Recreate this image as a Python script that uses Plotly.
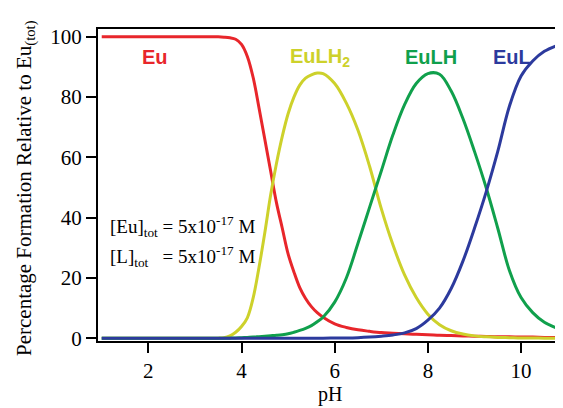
import plotly.graph_objects as go

pH = [1.0, 1.5, 2.0, 2.5, 3.0, 3.25, 3.5, 3.625, 3.75, 3.875, 4.0, 4.125, 4.25, 4.375,
      4.5, 4.625, 4.75, 4.875, 5.0, 5.125, 5.25, 5.375, 5.5, 5.625, 5.75, 6.0, 6.25,
      6.5, 6.75, 7.0, 7.25, 7.5, 7.75, 8.0, 8.25, 8.5, 8.75, 9.0, 9.25, 9.5, 9.75,
      10.0, 10.25, 10.5, 10.75, 11.0]

eu = [100, 100, 100, 100, 100, 100, 100, 99.9, 99.7, 99.2, 97.5, 93.5, 86.5, 76.5,
      66, 55.5, 45, 36.5, 28, 22, 16.8, 13.2, 10.5, 8.5, 7, 4.8, 3.6,
      2.8, 2.3, 1.9, 1.7, 1.5, 1.3, 1.2, 1.0, 0.9, 0.8, 0.7, 0.6, 0.5, 0.5,
      0.4, 0.4, 0.3, 0.3, 0.3]

eulh2 = [0, 0, 0, 0, 0, 0, 0.05, 0.2, 0.8, 2.0, 3.9, 6.8, 13.4, 23.5,
         35, 47.5, 58, 67, 74.5, 80, 84, 86.3, 87.4, 88, 87.8, 84.5, 78,
         69, 57, 43, 31, 21, 13.5, 8, 4.5, 2.5, 1.4, 0.8, 0.5, 0.3, 0.2,
         0.1, 0.1, 0.05, 0.05, 0.05]

eulh = [0, 0, 0, 0, 0, 0, 0, 0, 0.05, 0.1, 0.2, 0.3, 0.4, 0.55,
        0.7, 0.85, 1.0, 1.2, 1.5, 2.0, 2.6, 3.3, 4.2, 5.5, 7, 12, 20,
        31.5, 43.5, 55.5, 67.5, 77.5, 84.5, 87.8, 87.6, 82, 73, 62, 50, 36.5, 22.5,
        13.5, 8.5, 5.3, 3.5, 2.3]

eul = [0, 0, 0, 0, 0, 0, 0, 0, 0, 0, 0, 0, 0, 0,
       0, 0, 0, 0, 0, 0.01, 0.02, 0.02, 0.03, 0.04, 0.05, 0.07, 0.1,
       0.2, 0.4, 0.7, 1.1, 1.8, 3.2, 6, 10, 16.5, 25.5, 36.5, 48.5, 62, 77,
       87, 92, 95.2, 97, 98.2]

series = [
    ("Eu", eu, "#E8262B"),
    ("EuLH<sub>2</sub>", eulh2, "#CDD12B"),
    ("EuLH", eulh, "#10A04C"),
    ("EuL", eul, "#2C3A9D"),
]

label_x = [2.14, 5.68, 8.07, 9.81]
label_y = [93.2, 93.2, 93.2, 93.2]

SERIF = "Liberation Serif, Times New Roman, serif"

# the page body has an 8px margin, so the figure starts at (8, 8) of the window
OFF = 8
W, H = 563 - OFF, 408 - OFF
ML, MR, MT, MB = 98 - OFF, 0, 29 - OFF, 67

fig = go.Figure()
for name, vals, col in series:
    fig.add_trace(go.Scatter(x=pH, y=vals, mode="lines", name=name,
                             line=dict(color=col, width=3, shape="spline", smoothing=1.0),
                             showlegend=False))

for (name, vals, col), lx, ly in zip(series, label_x, label_y):
    fig.add_annotation(x=lx, y=ly, xref="x", yref="y", text="<b>" + name + "</b>",
                       showarrow=False, xanchor="center", yanchor="middle",
                       font=dict(family="Liberation Sans, Arial", size=20, color=col))

def px_to_paper_x(px):
    return (px - OFF - ML) / (W - ML - MR)

def px_to_paper_y(py):
    return (H - MB - (py - OFF)) / (H - MT - MB)

fig.add_annotation(x=px_to_paper_x(108), y=px_to_paper_y(226), xref="paper", yref="paper",
                   xanchor="left", yanchor="middle",
                   text="[Eu]<sub>tot</sub> = 5x10<sup>-17</sup> M", showarrow=False,
                   font=dict(family=SERIF, size=19, color="black"))
fig.add_annotation(x=px_to_paper_x(108), y=px_to_paper_y(256), xref="paper", yref="paper",
                   xanchor="left", yanchor="middle",
                   text="[L]<sub>tot</sub>&nbsp;&nbsp; = 5x10<sup>-17</sup> M", showarrow=False,
                   font=dict(family=SERIF, size=19, color="black"))

fig.add_annotation(x=px_to_paper_x(25), y=px_to_paper_y(188), xref="paper", yref="paper",
                   text="Percentage Formation Relative to Eu<sub>(tot)</sub>",
                   textangle=-90, showarrow=False, xanchor="center", yanchor="middle",
                   font=dict(family=SERIF, size=21, color="black"))

fig.add_annotation(x=px_to_paper_x(330), y=px_to_paper_y(394), xref="paper", yref="paper",
                   text="pH", showarrow=False, xanchor="center", yanchor="middle",
                   font=dict(family=SERIF, size=20, color="black"))

fig.update_layout(
    width=W, height=H,
    margin=dict(l=ML, r=MR, t=MT, b=MB, autoexpand=False),
    paper_bgcolor="white", plot_bgcolor="white",
    xaxis=dict(range=[0.92, 10.9], tickvals=[2, 4, 6, 8, 10], ticks="outside", ticklen=10,
               tickwidth=1.5, tickcolor="black", showline=True, linewidth=2, linecolor="black",
               mirror=True, showgrid=False, zeroline=False, automargin=False,
               tickfont=dict(family=SERIF, size=21, color="black")),
    yaxis=dict(range=[-0.9, 102.6], tickvals=[0, 20, 40, 60, 80, 100], ticks="outside", ticklen=10,
               tickwidth=1.5, tickcolor="black", showline=True, linewidth=2, linecolor="black",
               showgrid=False, zeroline=False, automargin=False,
               tickfont=dict(family=SERIF, size=21, color="black")),
)

fig.write_html("out.html")
